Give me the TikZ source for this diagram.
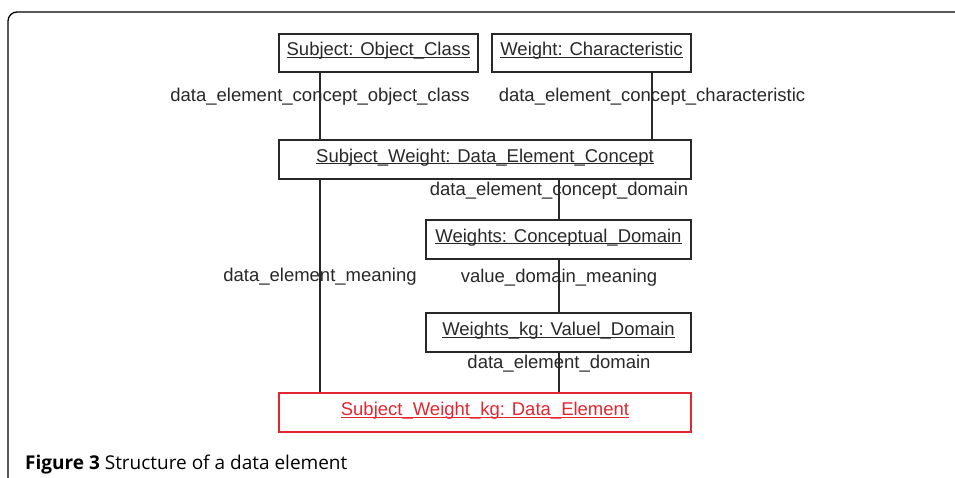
\documentclass[tikz,border=0pt]{standalone}
\usepackage{fontspec}
\setmainfont{Liberation Sans}
\newfontfamily\capfont{Open Sans}
\definecolor{boxred}{RGB}{228,38,48}
\definecolor{linegray}{RGB}{40,40,40}
\newcommand{\ulx}[1]{\setbox0\hbox{#1}\rlap{\rule[-2pt]{\wd0}{1pt}}\box0}
\tikzset{
  umlbox/.style={draw=linegray, line width=1.3pt, inner sep=0pt, text height=10pt, text depth=4pt,
     font=\fontsize{18.5}{20}\selectfont, text=linegray},
  redbox/.style={umlbox, draw=boxred, text=boxred},
  link/.style={draw=linegray, line width=1.3pt},
  role/.style={font=\fontsize{18.5}{20}\selectfont, text=linegray, inner sep=0pt, text height=10pt, text depth=4pt}
}
\begin{document}
\begin{tikzpicture}[x=1pt,y=-1pt]
\useasboundingbox (0,0) rectangle (955,478);
% outer frame
\draw[line width=1.3pt, rounded corners=9pt] (8,490) -- (8,12) -- (970,12);
% boxes
\node[umlbox, minimum width=199pt, minimum height=38pt] (oc) at (378.5,53) {\ulx{Subject: Object\_Class}};
\node[umlbox, minimum width=199pt, minimum height=38pt] (ch) at (591.5,53) {\ulx{Weight: Characteristic}};
\node[umlbox, minimum width=412pt, minimum height=39pt] (dec) at (485,159.5) {\ulx{Subject\_Weight: Data\_Element\_Concept}};
\node[umlbox, minimum width=265pt, minimum height=39pt] (cd) at (558.5,239.5) {\ulx{Weights: Conceptual\_Domain}};
\node[umlbox, minimum width=265pt, minimum height=39pt] (vd) at (558.5,332.5) {\ulx{Weights\_kg: Valuel\_Domain}};
\node[redbox, minimum width=412pt, minimum height=39pt] (de) at (485,412.5) {\ulx{Subject\_Weight\_kg: Data\_Element}};
% helper x positions
\coordinate (xl) at (320,0);
\coordinate (xr) at (652,0);
\coordinate (xm) at (559,0);
% connectors
\draw[link] (oc.south -| xl) -- node[role, pos=0.39] (l1) {data\_element\_concept\_object\_class} (dec.north -| xl);
\draw[link] (ch.south -| xr) -- node[role, pos=0.39] (l2) {data\_element\_concept\_characteristic} (dec.north -| xr);
\draw[link] (dec.south -| xm) -- node[role, pos=0.32] (l3) {data\_element\_concept\_domain} (cd.north -| xm);
\draw[link] (cd.south -| xm) -- node[role, pos=0.37] (l4) {value\_domain\_meaning} (vd.north -| xm);
\draw[link] (vd.south -| xm) -- node[role, pos=0.32] (l5) {data\_element\_domain} (de.north -| xm);
\draw[link] (dec.south -| xl) -- node[role, pos=0.467] (l6) {data\_element\_meaning} (de.north -| xl);
% caption
\node[anchor=base west, inner sep=0pt, font=\capfont\fontsize{19}{21}\selectfont] (cap) at (25,469) {\textbf{Figure 3} Structure of a data element};
\end{tikzpicture}
\end{document}
